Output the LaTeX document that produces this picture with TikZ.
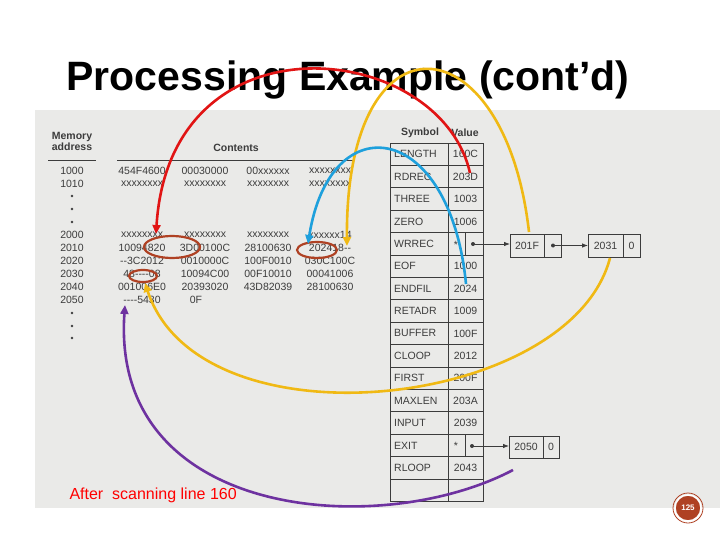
\documentclass[tikz,border=0pt]{standalone}
\usepackage{fontspec}
\setmainfont{Liberation Sans}
\usetikzlibrary{arrows.meta}
\definecolor{scan}{RGB}{234,234,232}
\definecolor{ink}{RGB}{60,60,60}
\definecolor{ringred}{RGB}{175,65,35}
\definecolor{arcred}{RGB}{225,20,20}
\definecolor{arcyellow}{RGB}{240,185,20}
\definecolor{arcblue}{RGB}{30,160,220}
\definecolor{arcpurple}{RGB}{110,50,160}
\tikzset{
  txt/.style = {font=\fontsize{10.5}{11}\selectfont, text=ink, inner sep=0pt},
  hdr/.style = {font=\bfseries\fontsize{10.5}{11}\selectfont, text=ink, align=center, inner sep=0pt},
  cell/.style = {draw=ink, thick},
  ring/.style = {draw=ringred, line width=2.2pt},
  arc/.style = {line width=2.6pt, -{Triangle[length=9pt,width=8pt]}},
  ptr/.style = {thick, ink, -{Latex[length=6pt]}}
}
\begin{document}
\begin{tikzpicture}[x=1pt, y=-1pt]
\useasboundingbox (0,0) rectangle (720,540);
\fill[white] (0,0) rectangle (720,540);
\fill[scan] (35,110) rectangle (720,508);
% title
\node[font=\bfseries\fontsize{41}{46}\selectfont] (title) at (348,80) {Processing Example (cont’d)};
% memory contents
\node[hdr] (memhdr) at (72,141) {Memory\\address};
\draw[ink, thick] (48,160) -- (96,160);
\node[hdr] (conthdr) at (236,148) {Contents};
\draw[ink, thick] (117,160) -- (355,160);
\foreach \adr/\yy in {1000/171, 1010/184, 2000/235, 2010/248, 2020/261, 2030/274, 2040/287, 2050/300}
  \node[txt] (a\adr) at (72,\yy) {\adr};
\foreach \yy in {196, 209, 222, 313, 326, 338}
  \fill[ink] (72,\yy) circle (1.4);
\foreach \yy/\ca/\cb/\cc/\cd in {171/454F4600/00030000/00xxxxxx/xxxxxxxx,
    184/xxxxxxxx/xxxxxxxx/xxxxxxxx/xxxxxxxx,
    235/xxxxxxxx/xxxxxxxx/xxxxxxxx/xxxxxx14,
    248/10094820/3D00100C/28100630/2024{1}8{-}{-},
    261/{-}{-}3C2012/0010000C/100F0010/030C100C,
    274/48{-}{-}{-}{-}08/10094C00/00F10010/00041006,
    287/001006E0/20393020/43D82039/28100630}
{
  \node[txt] at (142,\yy) {\ca};
  \node[txt] at (205,\yy) {\cb};
  \node[txt] at (268,\yy) {\cc};
  \node[txt] at (330,\yy) {\cd};
}
\node[txt] (last) at (142,300) {{-}{-}{-}{-}5430};
\node[txt] (lastb) at (196,300) {0F};
% symbol table
\node[hdr] (symhdr) at (420,133) {Symbol};
\node[hdr] (valhdr) at (465,133) {Value};
\foreach \sym/\val [count=\i from 0] in {LENGTH/160C, RDREC/203D, THREE/1003, ZERO/1006,
    WRREC/{}, EOF/1000, ENDFIL/2024, RETADR/1009, BUFFER/100F, CLOOP/2012,
    FIRST/200F, MAXLEN/203A, INPUT/2039, EXIT/{}, RLOOP/2043, {}/{}}
{
  \draw[cell] (390,143+22.4*\i) rectangle (448,165.4+22.4*\i);
  \draw[cell] (448,143+22.4*\i) rectangle (483,165.4+22.4*\i);
  \node[txt, anchor=west] (s\i) at (394,154.2+22.4*\i) {\sym};
  \node[txt] (v\i) at (465.5,154.2+22.4*\i) {\val};
}
\draw[ink, thick] (390,501) -- (390,143);
% pointer cells
\draw[cell] (465,232.6) -- (465,255);
\node[txt] (wstar) at (456,245) {*};
\fill[ink] (473,244) circle (2);
\draw[cell] (510,234) rectangle (561,257);
\draw[cell] (544,234) -- (544,257);
\node[txt] (b201F) at (527,245.5) {201F};
\fill[ink] (553,245.5) circle (2);
\draw[cell] (588,234) rectangle (640,257);
\draw[cell] (623,234) -- (623,257);
\node[txt] (b2031) at (605.5,245.5) {2031};
\node[txt] (z1) at (631.5,245.5) {0};
\draw[ptr] (473,244) -- (510,244);
\draw[ptr] (553,245.5) -- (588,245.5);
\draw[cell] (465,434.8) -- (465,457.2);
\node[txt] (estar) at (456,446) {*};
\fill[ink] (472,446) circle (2);
\draw[cell] (509,436) rectangle (559,458);
\draw[cell] (543,436) -- (543,458);
\node[txt] (b2050) at (526,447) {2050};
\node[txt] (z2) at (551,447) {0};
\draw[ptr] (472,446) -- (509,446);
% rings
\draw[ring] (172,247) ellipse (28 and 11);
\draw[ring] (317,250) ellipse (20 and 8);
\draw[ring] (143,276) ellipse (14 and 6);
% arcs
\draw[arc, arcred] (470,173) .. controls (440,40) and (170,10) .. (156,234);
\draw[arc, arcyellow] (529,232) .. controls (505,20) and (345,7) .. (347,246);
\draw[arc, arcblue] (466,284) .. controls (450,120) and (330,104) .. (308,244);
\draw[arc, arcyellow] (610,258) .. controls (570,410) and (200,450) .. (145,283);
\draw[arc, arcpurple] (513,470) .. controls (380,540) and (110,520) .. (125,305);
% caption and page number
\node[text=red, font=\fontsize{16}{18}\selectfont, anchor=west] (caption) at (66,495) {After\ \ scanning line 160};
\node[circle, fill=ringred, draw=white, line width=1.5pt, minimum size=26pt, inner sep=0pt,
  text=white, font=\bfseries\fontsize{8}{9}\selectfont] (page) at (688,508) {125};
\draw[ringred, thick] (page) circle (15);
\end{tikzpicture}
\end{document}
